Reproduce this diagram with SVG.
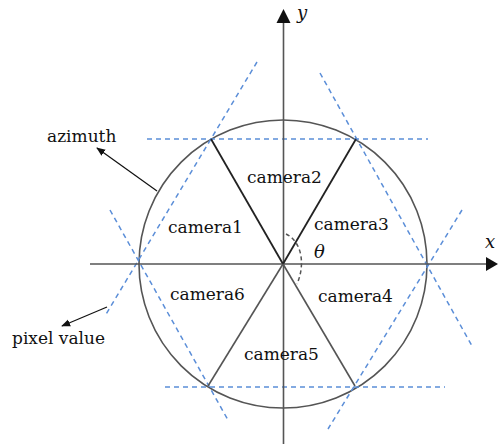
<svg xmlns="http://www.w3.org/2000/svg" width="498" height="446" viewBox="0 0 498 446">
<style>
.lbl{font-family:"DejaVu Serif","Liberation Serif",serif;font-size:17px;fill:#111}
.it{font-family:"DejaVu Serif","Liberation Serif",serif;font-style:italic;font-size:18px;fill:#111}
.dash{stroke:#5b8ed8;stroke-width:1.5;stroke-dasharray:5 4;fill:none}
.axis{stroke:#555;stroke-width:1.6;fill:none}
.thin{stroke:#555;stroke-width:1.6;fill:none}
.dark{stroke:#222;stroke-width:1.8;fill:none}
.ptr{stroke:#111;stroke-width:1.2;fill:none;marker-end:url(#ah)}
</style>
<defs>
<marker id="ah" viewBox="0 0 10 10" refX="9" refY="5" markerWidth="9" markerHeight="9" markerUnits="userSpaceOnUse" orient="auto">
<path d="M0,1 L10,5 L0,9 Z" fill="#111"/>
</marker>
</defs>
<rect width="498" height="446" fill="#fff"/>
<g id="circle"><circle cx="283" cy="264" r="144" fill="none" stroke="#555" stroke-width="1.6"/></g>
<g id="connectors">
<line class="dash" x1="147" y1="139" x2="428" y2="139"/>
<line class="dash" x1="165" y1="387" x2="445" y2="387"/>
<line class="dash" x1="257" y1="62" x2="105" y2="316"/>
<line class="dash" x1="110" y1="210" x2="228" y2="420"/>
<line class="dash" x1="320" y1="73" x2="472" y2="346"/>
<line class="dash" x1="462" y1="210" x2="328" y2="429"/>
<line class="axis" x1="90" y1="264" x2="488" y2="264"/>
<path d="M498,264 L486,257 L486,271 Z" fill="#111"/>
<line class="axis" x1="283.5" y1="444" x2="283.5" y2="22"/>
<path d="M283.5,9 L276.5,23 L290.5,23 Z" fill="#111"/>
<line class="dark" x1="283" y1="264" x2="211" y2="139"/>
<line class="dark" x1="283" y1="264" x2="356" y2="139"/>
<line class="thin" x1="283" y1="264" x2="208" y2="386"/>
<line class="thin" x1="283" y1="264" x2="355" y2="386"/>
<path d="M286,234 C301,241 306,263 297,284" stroke="#555" stroke-width="1.5" stroke-dasharray="4 3" fill="none"/>
<line class="ptr" x1="157" y1="191" x2="97" y2="148"/>
<line class="ptr" x1="107" y1="307" x2="62" y2="326"/>
</g>
<g id="camera1"><text class="lbl" x="168" y="233">camera1</text></g>
<g id="camera2"><text class="lbl" x="247" y="183">camera2</text></g>
<g id="camera3"><text class="lbl" x="314" y="230">camera3</text></g>
<g id="camera4"><text class="lbl" x="318" y="302">camera4</text></g>
<g id="camera5"><text class="lbl" x="244" y="360">camera5</text></g>
<g id="camera6"><text class="lbl" x="170" y="300">camera6</text></g>
<g id="azimuth"><text class="lbl" x="47" y="142">azimuth</text></g>
<g id="pixelvalue"><text class="lbl" x="12" y="344">pixel value</text></g>
<g id="axislabels">
<text class="it" x="297" y="19">y</text>
<text class="it" x="485" y="248">x</text>
<text class="it" x="314" y="258">θ</text>
</g>
</svg>
